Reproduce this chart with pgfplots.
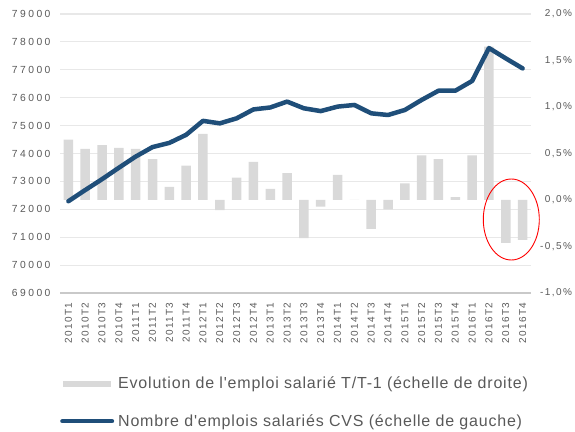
\documentclass[border=0pt]{standalone}
\usepackage{fontspec}
\setmainfont{Liberation Sans}
\newfontfamily\tickfont[LetterSpace=14]{Liberation Sans}
\newfontfamily\ytickfont[LetterSpace=24]{Liberation Sans}
\newfontfamily\legfont[LetterSpace=5]{Liberation Sans}
\usepackage{pgfplots}
\pgfplotsset{compat=1.18}
\definecolor{bargray}{HTML}{D9D9D9}
\definecolor{gridgray}{HTML}{E8E8E8}
\definecolor{axisgray}{HTML}{C9C9C9}
\definecolor{linecol}{HTML}{1F4E79}
\definecolor{txtgray}{HTML}{595959}
\pgfplotsset{
  common/.style={scale only axis, width=471pt, height=279pt, xmin=-0.5, xmax=27.5, major tick length=0pt,
    scaled y ticks=false, /pgf/number format/assume math mode=true},
  tickf/.style={font=\tickfont\fontsize{10}{12}\selectfont, text=txtgray},
}
\begin{document}
\begin{tikzpicture}
\useasboundingbox (-60pt,-138pt) rectangle (515pt,293pt);
% grid and left axis
\begin{axis}[common,
  ymin=69000, ymax=79000, ytick={69000,70000,...,79000},
  yticklabels={69000,70000,71000,72000,73000,74000,75000,76000,77000,78000,79000},
  ymajorgrids, grid style={draw=gridgray, line width=1.2pt},
  axis x line*=bottom, axis y line*=left,
  x axis line style={-, draw=axisgray, line width=1.2pt},
  y axis line style={draw=none},
  xtick={0,...,27},
  xticklabels={2010T1,2010T2,2010T3,2010T4,2011T1,2011T2,2011T3,2011T4,2012T1,2012T2,2012T3,2012T4,2013T1,2013T2,2013T3,2013T4,2014T1,2014T2,2014T3,2014T4,2015T1,2015T2,2015T3,2015T4,2016T1,2016T2,2016T3,2016T4},
  xticklabel style={tickf, rotate=90, anchor=east, xshift=-6pt},
  yticklabel style={font=\ytickfont\fontsize{10.3}{12}\selectfont, text=txtgray, xshift=-6pt},
]
\end{axis}
% bars, right axis
\begin{axis}[common,
  ymin=-1, ymax=2, ytick={-1,-0.5,0,0.5,1,1.5,2},
  yticklabels={{-1,0\%},{-0,5\%},{0,0\%},{0,5\%},{1,0\%},{1,5\%},{2,0\%}},
  axis y line*=right, y axis line style={draw=none},
  hide x axis,
  yticklabel style={tickf, anchor=east, xshift=44.5pt},
  ybar, bar width=9.5pt,
]
\addplot[fill=bargray, draw=none] coordinates {
(0,0.65) (1,0.55) (2,0.59) (3,0.56) (4,0.55) (5,0.44) (6,0.14) (7,0.37)
(8,0.71) (9,-0.11) (10,0.24) (11,0.41) (12,0.12) (13,0.29) (14,-0.41) (15,-0.07)
(16,0.27) (17,0.00) (18,-0.31) (19,-0.10) (20,0.18) (21,0.48) (22,0.44) (23,0.03)
(24,0.48) (25,1.65) (26,-0.46) (27,-0.43)};
\end{axis}
% line, left scale
\begin{axis}[common,
  ymin=69000, ymax=79000, hide axis,
  legend cell align=left,
  legend style={at={(0,0)}, anchor=north west, yshift=-83pt, draw=none, fill=none,
    inner sep=0pt, font=\legfont\fontsize{16}{19}\selectfont, text=txtgray,
    row sep=22pt, column sep=3pt, nodes={inner sep=1pt}},
]
\addlegendimage{draw=none, mark=none, legend image code/.code={\fill[white, opacity=0] (0pt,-3pt) rectangle (54pt,3pt); \fill[bargray] (3pt,-3pt) rectangle (51pt,3pt);}}
\addlegendentry{Evolution de l'emploi salarié T/T-1 (échelle de droite)}
\addplot[linecol, line width=4.5pt, line join=round, line cap=round,
  legend image code/.code={\draw[linecol, line width=4.5pt, line cap=round] (2.25pt,0pt) -- (51.75pt,0pt);}]
coordinates {
(0,72290) (1,72690) (2,73080) (3,73490) (4,73890) (5,74230) (6,74380) (7,74670)
(8,75170) (9,75080) (10,75260) (11,75580) (12,75650) (13,75860) (14,75620) (15,75520)
(16,75680) (17,75740) (18,75440) (19,75380) (20,75560) (21,75920) (22,76250) (23,76250)
(24,76600) (25,77780) (26,77410) (27,77050)};
\addlegendentry{Nombre d'emplois salariés CVS (échelle de gauche)}
\end{axis}
\draw[red, line width=0.9pt] (451.3pt,73.5pt) ellipse [x radius=28pt, y radius=40.5pt];
\end{tikzpicture}
\end{document}
